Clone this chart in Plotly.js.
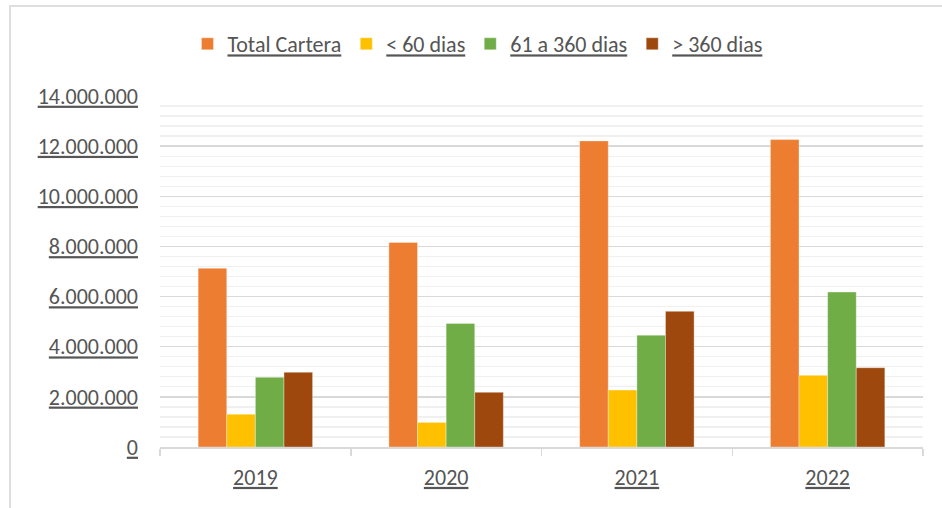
<!DOCTYPE html>
<html>
<head>
<meta charset="utf-8">
<script src="https://cdn.plot.ly/plotly-3.0.1.min.js"></script>
<style>
  html, body { margin: 0; padding: 0; background: #fff; }
  #wrap { position: relative; width: 942px; height: 508px; }
  #chart { position: absolute; left: 0; top: 0; width: 942px; height: 508px; }
  #frame { position: absolute; left: 9px; top: 5px; width: 933px; height: 503px;
           border-top: 2px solid #dedede; border-left: 2px solid #dedede; pointer-events: none; }
</style>
</head>
<body>
<div id="wrap"><div id="chart"></div><div id="frame"></div></div>
<script>
const years = ['2019', '2020', '2021', '2022'];
const seriesNames = ['Total Cartera', '< 60 dias', '61 a 360 dias', '> 360 dias'];
const totalCartera = [7130000, 8160000, 12210000, 12260000];
const menos60 = [1310000, 980000, 2270000, 2860000];
const de61a360 = [2780000, 4930000, 4460000, 6180000];
const mas360 = [2980000, 2180000, 5410000, 3160000];
const colors = ['#ED7D31', '#FFC000', '#70AD47', '#9E480E'];
const yTicks = [0, 2000000, 4000000, 6000000, 8000000, 10000000, 12000000, 14000000];

const FONT = 'Carlito, Lato, sans-serif';
const TXT = '#555555';
const FS = 22;

const allSeries = [totalCartera, menos60, de61a360, mas360];
const traces = allSeries.map((vals, i) => ({
  type: 'bar',
  name: seriesNames[i],
  x: years,
  y: vals,
  marker: { color: colors[i], line: { color: 'rgba(255,255,255,0.35)', width: 1 } },
  hoverinfo: 'skip'
}));

const layout = {
  width: 942,
  height: 508,
  margin: { l: 160, r: 19, t: 96, b: 61 },
  paper_bgcolor: '#ffffff',
  plot_bgcolor: '#ffffff',
  separators: ',.',
  barmode: 'group',
  bargap: 0.4,
  bargroupgap: 0,
  font: { family: FONT, color: TXT, size: FS },
  showlegend: true,
  legend: {
    orientation: 'h',
    x: 0.036,
    xanchor: 'left',
    y: 1.0 + (96 - 44) / 351,
    yanchor: 'middle',
    font: { family: FONT, size: FS, color: TXT, lineposition: 'under' },
    bgcolor: 'rgba(0,0,0,0)',
    itemclick: false,
    itemdoubleclick: false
  },
  xaxis: {
    type: 'category',
    showgrid: false,
    showline: true,
    linecolor: '#d9d9d9',
    linewidth: 1.5,
    ticks: 'outside',
    tickson: 'boundaries',
    ticklen: 7,
    tickwidth: 1.5,
    tickcolor: '#d9d9d9',
    ticklabelstandoff: 10,
    tickfont: { family: FONT, size: FS, color: TXT, lineposition: 'under' },
    fixedrange: true
  },
  yaxis: {
    range: [0, 14000000],
    tickvals: yTicks,
    tickformat: ',d',
    showgrid: true,
    gridcolor: '#d9d9d9',
    gridwidth: 1.3,
    zeroline: false,
    showline: false,
    ticks: '',
    ticklabelstandoff: 21,
    tickfont: { family: FONT, size: FS, color: TXT, lineposition: 'under' },
    minor: { dtick: 400000, tick0: 0, showgrid: true, gridcolor: '#f0f0f0', gridwidth: 1.3, ticks: '' },
    fixedrange: true
  }
};

Plotly.newPlot('chart', traces, layout, { displayModeBar: false, staticPlot: true });
</script>
</body>
</html>
